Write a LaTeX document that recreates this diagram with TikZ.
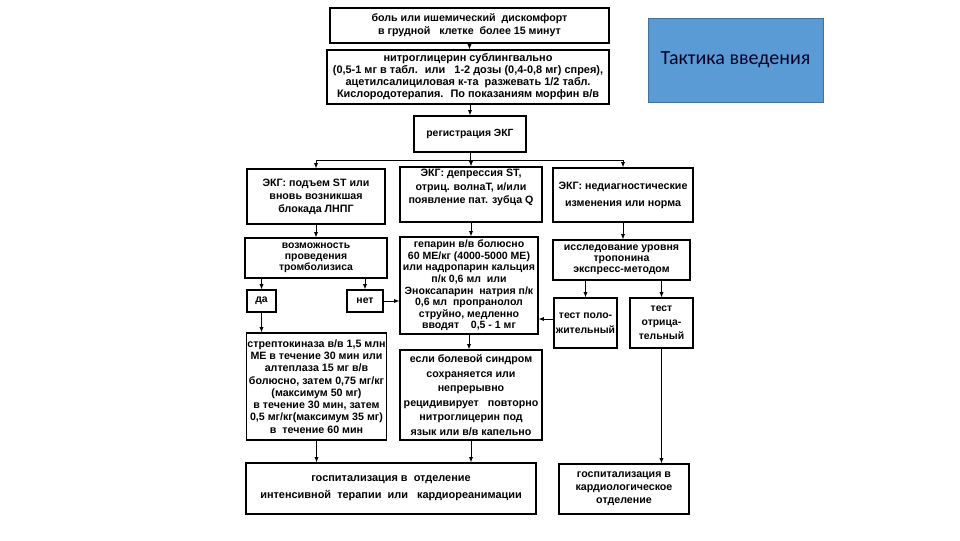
\documentclass[tikz,border=0pt]{standalone}
\usepackage{fontspec}
\setmainfont{Liberation Sans}
\newfontfamily\tablofont{Carlito}
\usetikzlibrary{arrows.meta}

\definecolor{tablosin}{RGB}{91,155,213}
\definecolor{tablokraj}{RGB}{65,113,156}

\tikzset{
    blok/.style={draw, line width=0.9pt, align=center, inner sep=1pt},
    razmer/.style 2 args={minimum width=#1*0.75pt, minimum height=#2*0.75pt},
    shrift/.style 2 args={font=\bfseries\fontsize{#1}{#2}\selectfont},
    strelka/.style={-{Latex[length=4pt,width=3.2pt]}, line width=0.7pt},
    liniya/.style={line width=0.7pt}
}

\begin{document}
\begin{tikzpicture}[x=0.75pt, y=-0.75pt]
        \useasboundingbox ( 0, 0 ) rectangle ( 960, 540 );

        % заголовок
        \node [fill=tablosin, draw=tablokraj, line width=0.6pt, razmer={175}{84},
               font=\tablofont\fontsize{15}{17}\selectfont, text=black!85!blue]
              (tablo) at ( 735.5, 60 ) {Тактика введения};

        % верхние блоки
        \node [blok, razmer={279}{35}, shrift={8}{9.75}] (bol) at ( 469.5, 25.5 )
              {боль или ишемический~ дискомфорт\\в грудной~~ клетке~ более 15 минут};
        \node [blok, razmer={282}{54}, shrift={8.2}{9}] (nitro) at ( 468, 77 )
              {нитроглицерин сублингвально\\(0,5-1 мг в табл.~ или~~ 1-2 дозы (0,4-0,8 мг) спрея),\\ацетилсалициловая к-та~ разжевать 1/2 табл.\\Кислородотерапия.~ По показаниям морфин в/в};
        \node [blok, razmer={112}{36}, shrift={7.8}{9}] (reg) at ( 470, 134 ) {регистрация ЭКГ};

        % ЭКГ
        \node [blok, razmer={138}{55}, shrift={8}{9.75}] (stL) at ( 316, 196.5 )
              {ЭКГ: подъем ST или\\вновь возникшая\\блокада ЛНПГ};
        \node [blok, razmer={142}{55}, shrift={8}{10}] (stM) at ( 471, 194.5 )
              {ЭКГ: депрессия ST,\\отриц. волнаТ, и/или\\появление пат. зубца Q\\[2pt]};
        \node [blok, razmer={140}{54}, shrift={8}{12.75}] (stR) at ( 623, 195 )
              {ЭКГ: недиагностические\\изменения или норма};

        % левая ветвь
        \node [blok, razmer={142}{40}, shrift={7.8}{8.25}] (tromb) at ( 316, 258 )
              {возможность\\проведения\\тромболизиса};
        \node [blok, razmer={29}{22}, shrift={7.8}{9}] (da) at ( 261.5, 301 ) {да};
        \node [blok, razmer={36}{22}, shrift={7.8}{9}] (net) at ( 365, 301 ) {нет};
        \node [blok, razmer={139}{107}, shrift={8}{9.2}] (strept) at ( 316.5, 386.5 )
              {стрептокиназа в/в 1,5 млн\\МЕ в течение 30 мин или\\алтеплаза 15 мг в/в\\болюсно, затем 0,75 мг/кг\\(максимум 50 мг)\\в течение 30 мин, затем\\0,5 мг/кг(максимум 35 мг)\\в~ течение 60 мин};

        % средняя ветвь
        \node [blok, razmer={138}{97}, shrift={7.9}{8.7}] (gep) at ( 469, 285.5 )
              {гепарин в/в болюсно\\60 МЕ/кг (4000-5000 МЕ)\\или надропарин кальция\\п/к 0,6 мл~ или\\Эноксапарин~ натрия п/к\\0,6 мл~ пропранолол\\струйно, медленно\\вводят~~~ 0,5 - 1 мг};
        \node [blok, razmer={142}{90}, shrift={8}{10.9}] (povt) at ( 471, 395 )
              {если болевой синдром\\сохраняется или\\непрерывно\\рецидивирует~~ повторно\\нитроглицерин под\\язык или в/в капельно};

        % правая ветвь
        \node [blok, razmer={137}{40}, shrift={7.9}{8.25}] (trop) at ( 621.5, 260 )
              {исследование уровня\\тропонина\\экспресс-методом};
        \node [blok, razmer={63}{50}, shrift={7.8}{11.25}] (polozh) at ( 585.5, 323 )
              {тест поло-\\жительный};
        \node [blok, razmer={63}{50}, shrift={7.8}{10.5}] (otr) at ( 661.5, 323 )
              {тест\\отрица-\\тельный};

        % госпитализация
        \node [blok, razmer={290}{51}, shrift={8.2}{12.75}] (gosp1) at ( 391, 488.5 )
              {госпитализация в~ отделение\\интенсивной~ терапии~ или~~ кардиореанимации};
        \node [blok, razmer={130}{50}, shrift={8}{9.75}] (gosp2) at ( 624, 489 )
              {госпитализация в\\кардиологическое\\отделение};

        % стрелки сверху
        \draw [strelka] (bol.south) -- (bol.south |- nitro.north);
        \draw [strelka] (reg.north |- nitro.south) -- (reg.north);
        \coordinate (uzel) at ( 470, 160 );
        \draw [liniya] (reg.south) -- (uzel);
        \draw [liniya] (stL.north |- uzel) -- (stR.north |- uzel);
        \draw [strelka] (stL.north |- uzel) -- (stL.north);
        \draw [strelka] (stM.north |- uzel) -- (stM.north);
        \draw [strelka] (stR.north |- uzel) -- (stR.north);

        % стрелки слева
        \draw [strelka] (stL.south) -- (stL.south |- tromb.north);
        \draw [strelka] (da.north |- tromb.south) -- (da.north);
        \draw [strelka] (net.north |- tromb.south) -- (net.north);
        \draw [strelka] (da.south) -- (da.south |- strept.north);
        \draw [strelka] (net.east) -- (net.east -| gep.west);
        \draw [strelka] (strept.south) -- (strept.south |- gosp1.north);

        % стрелки в середине
        \draw [strelka] (stM.south) -- (stM.south |- gep.north);
        \draw [strelka] (gep.south) -- (gep.south |- povt.north);
        \draw [strelka] (povt.south) -- (povt.south |- gosp1.north);

        % стрелки справа
        \draw [strelka] (stR.south) -- (stR.south |- trop.north);
        \draw [strelka] (polozh.north |- trop.south) -- (polozh.north);
        \draw [strelka] (otr.north |- trop.south) -- (otr.north);
        \draw [strelka] ([yshift=3pt]polozh.west) -- ([yshift=3pt]polozh.west -| gep.east);
        \draw [strelka] (otr.south) -- (otr.south |- gosp2.north);
    \end{tikzpicture}
\end{document}
